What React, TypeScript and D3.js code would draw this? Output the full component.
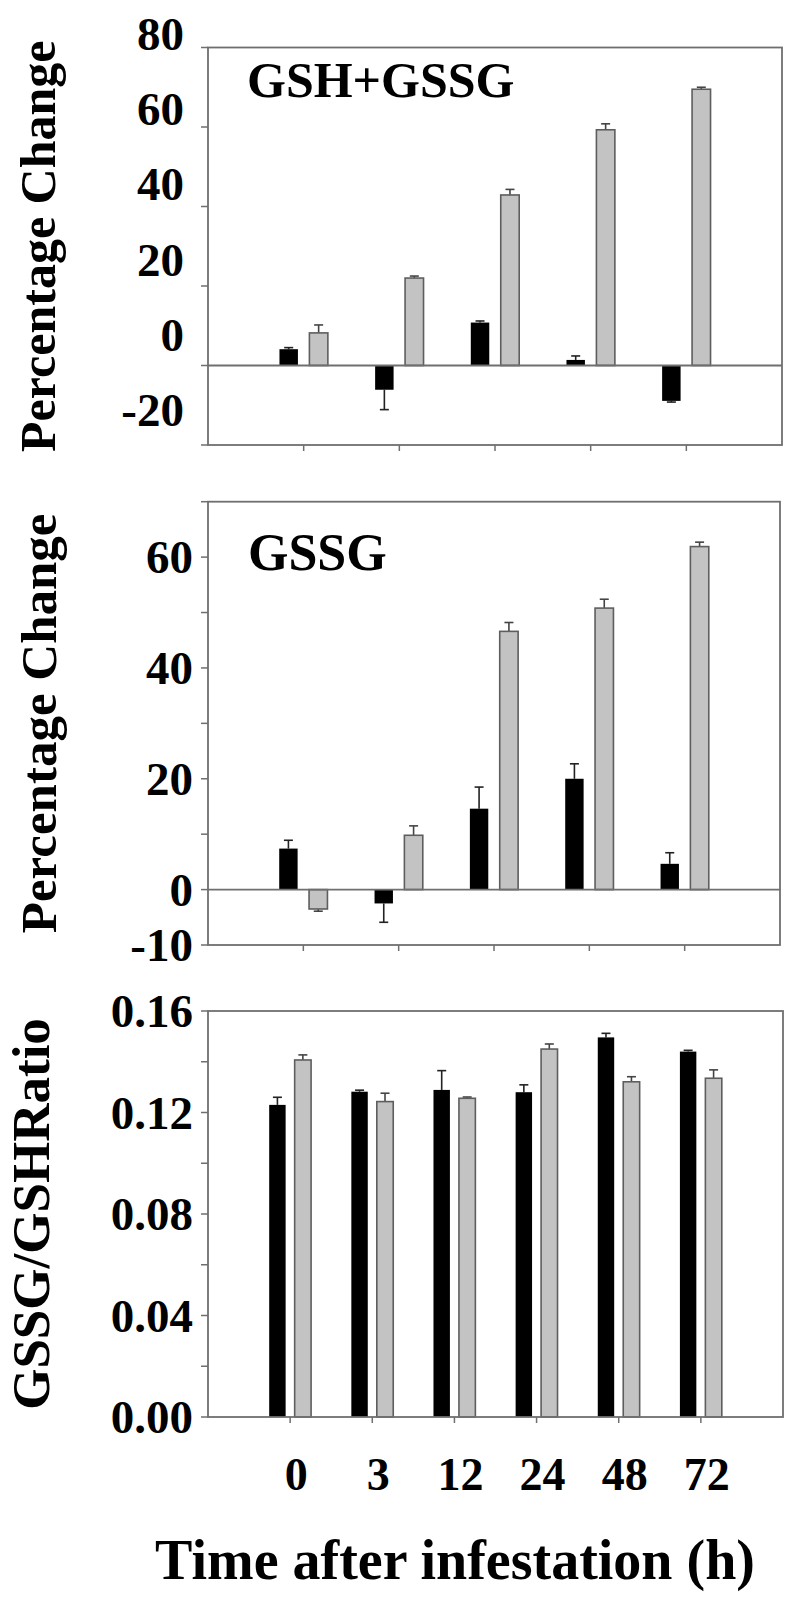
import React from 'react';
import * as d3 from 'd3';

// ---------- data ----------
const hoursTop = ['0', '3', '12', '24', '72'];
const hoursBottom = ['0', '3', '12', '24', '48', '72'];

// Panel A: GSH+GSSG (% change)
const totalBlack = [4.1, -6.1, 10.8, 1.4, -8.9];
const totalBlackErr = [0.4, 5.0, 0.4, 1.0, 0.3];
const totalGray = [8.2, 22.0, 42.9, 59.3, 69.5];
const totalGrayErr = [2.0, 0.5, 1.4, 1.5, 0.5];
const totalTicks = [80, 60, 40, 20, 0, -20];
const totalTickLabels = ['80', '60', '40', '20', '0', '-20'];

// Panel B: GSSG (% change)
const gssgBlack = [7.4, -2.5, 14.6, 20.0, 4.65];
const gssgBlackErr = [1.5, 3.4, 3.9, 2.7, 2.0];
const gssgGray = [-3.5, 9.8, 46.6, 50.8, 61.9];
const gssgGrayErr = [0.4, 1.7, 1.6, 1.6, 0.8];
const gssgTicks = [70, 60, 50, 40, 30, 20, 10, 0, -10];
const gssgTickLabels = ['60', '40', '20', '0', '-10'];
const gssgLabelValues = [60, 40, 20, 0, -10];

// Panel C: GSSG/GSH ratio
const ratioBlack = [0.123, 0.1282, 0.1289, 0.128, 0.1496, 0.144];
const ratioBlackErr = [0.003, 0.0006, 0.0076, 0.0029, 0.0016, 0.0005];
const ratioGray = [0.1407, 0.1243, 0.1256, 0.145, 0.1321, 0.1335];
const ratioGrayErr = [0.002, 0.0033, 0.0005, 0.002, 0.002, 0.0033];
const ratioTicks = [0.16, 0.14, 0.12, 0.1, 0.08, 0.06, 0.04, 0.02, 0];
const ratioLabelValues = [0.16, 0.12, 0.08, 0.04, 0];
const ratioTickLabels = ['0.16', '0.12', '0.08', '0.04', '0.00'];

const FONT = '"Liberation Serif", "Times New Roman", serif';
const AXIS = '#6f6f6f';
const GRAY = '#c3c3c3';
const GRAY_EDGE = '#5e5e5e';

type PanelProps = {
  left: number; right: number; top: number; bottom: number;
  domain: [number, number];
  slots: number;
  black: number[]; blackErr: number[];
  gray: number[]; grayErr: number[];
  ticks: number[];
  labelValues: number[]; labels: string[];
  labelRange?: [number, number];
  labelX: number;
  zeroLine: boolean;
  barFrac: number; gapFrac: number;
  title?: string; titleX?: number; titleY?: number; titleSize?: number;
  yTitle: string; yTitleX: number; yTitleSize: number;
  xLabels?: string[];
};

function ErrorBar({ x, y0, y1, color }: { x: number; y0: number; y1: number; color: string }) {
  return (
    <g stroke={color} strokeWidth={1.6}>
      <line x1={x} x2={x} y1={y0} y2={y1} />
      <line x1={x - 4.5} x2={x + 4.5} y1={y1} y2={y1} />
    </g>
  );
}

function Panel(p: PanelProps) {
  const x = d3.scaleLinear().domain([0, p.slots]).range([p.left, p.right]);
  const y = d3.scaleLinear().domain(p.domain).range([p.bottom, p.top]);
  const step = x(1) - x(0);
  const bw = step * p.barFrac;
  const gap = step * p.gapFrac;
  const labelScale = p.labelRange
    ? d3.scaleLinear().domain(p.domain).range(p.labelRange)
    : y;
  const groups = d3.range(p.black.length);

  const bar = (v: number, x0: number, fill: string, stroke: string | null, err: number, errColor: string, key: string) => {
    const yTop = y(Math.max(0, v));
    const yBot = y(Math.min(0, v));
    const cx = x0 + bw / 2;
    const sign = v >= 0 ? 1 : -1;
    const yv = y(v);
    const ye = y(v + sign * err);
    return (
      <g key={key}>
        <ErrorBar x={cx} y0={yv} y1={ye} color={errColor} />
        <rect x={x0} y={yTop} width={bw} height={Math.max(0.5, yBot - yTop)} fill={fill}
          stroke={stroke ?? 'none'} strokeWidth={stroke ? 1.6 : 0} />
      </g>
    );
  };

  const yMid = (p.top + p.bottom) / 2;
  return (
    <g>
      {/* bars */}
      {groups.map((i) => {
        const c = x(i + 1);
        return (
          <g key={i}>
            {bar(p.black[i], c - gap - bw, '#000', null, p.blackErr[i], '#222', 'b' + i)}
            {bar(p.gray[i], c + gap, GRAY, GRAY_EDGE, p.grayErr[i], '#444', 'g' + i)}
          </g>
        );
      })}
      {/* zero line */}
      {p.zeroLine && (
        <line x1={p.left} x2={p.right} y1={y(0)} y2={y(0)} stroke={AXIS} strokeWidth={1.8} />
      )}
      {/* frame */}
      <rect x={p.left} y={p.top} width={p.right - p.left} height={p.bottom - p.top}
        fill="none" stroke={AXIS} strokeWidth={1.8} />
      {/* y ticks */}
      {p.ticks.map((t) => (
        <line key={'yt' + t} x1={p.left - 7} x2={p.left} y1={y(t)} y2={y(t)} stroke={AXIS} strokeWidth={1.5} />
      ))}
      {/* x ticks */}
      {d3.range(1, p.slots).map((k) => (
        <line key={'xt' + k} x1={x(k)} x2={x(k)} y1={p.bottom} y2={p.bottom + 6} stroke={AXIS} strokeWidth={1.5} />
      ))}
      {/* y tick labels */}
      {p.labelValues.map((v, i) => (
        <text key={'yl' + i} x={p.labelX} y={labelScale(v)} textAnchor="end" dominantBaseline="central"
          fontFamily={FONT} fontWeight="bold" fontSize={47} fill="#000">{p.labels[i]}</text>
      ))}
      {/* x tick labels */}
      {p.xLabels && p.xLabels.map((l, i) => (
        <text key={'xl' + i} x={x(i + 1) + 6} y={p.bottom + 73} textAnchor="middle"
          fontFamily={FONT} fontWeight="bold" fontSize={46} fill="#000">{l}</text>
      ))}
      {/* panel title */}
      {p.title && (
        <text x={p.titleX} y={p.titleY} fontFamily={FONT} fontWeight="bold" fontSize={p.titleSize}
          fill="#000">{p.title}</text>
      )}
      {/* y axis title */}
      <text transform={`translate(${p.yTitleX},${yMid}) rotate(-90)`} textAnchor="middle"
        fontFamily={FONT} fontWeight="bold" fontSize={p.yTitleSize} fill="#000">{p.yTitle}</text>
    </g>
  );
}

export default function App() {
  return (
    <svg width={797} height={1602} viewBox="0 0 797 1602"
      style={{ position: 'absolute', left: 0, top: 0, background: '#fff' }}>
      <rect width={797} height={1602} fill="#fff" />
      <Panel left={208} right={782} top={47.5} bottom={445} domain={[-20, 80]} slots={6}
        black={totalBlack} blackErr={totalBlackErr} gray={totalGray} grayErr={totalGrayErr}
        ticks={totalTicks} labelValues={totalTicks} labels={totalTickLabels}
        labelRange={[410, 34]} labelX={184} zeroLine barFrac={0.193} gapFrac={0.06}
        title="GSH+GSSG" titleX={247} titleY={97} titleSize={50}
        yTitle="Percentage Change" yTitleX={55} yTitleSize={50} />
      <Panel left={208} right={780} top={501.7} bottom={945} domain={[-10, 70]} slots={6}
        black={gssgBlack} blackErr={gssgBlackErr} gray={gssgGray} grayErr={gssgGrayErr}
        ticks={gssgTicks} labelValues={gssgLabelValues} labels={gssgTickLabels}
        labelX={193} zeroLine barFrac={0.193} gapFrac={0.06}
        title="GSSG" titleX={248} titleY={570} titleSize={52}
        yTitle="Percentage Change" yTitleX={56} yTitleSize={51} />
      <Panel left={208} right={783} top={1011} bottom={1417} domain={[0, 0.16]} slots={7}
        black={ratioBlack} blackErr={ratioBlackErr} gray={ratioGray} grayErr={ratioGrayErr}
        ticks={ratioTicks} labelValues={ratioLabelValues} labels={ratioTickLabels}
        labelX={193} zeroLine={false} barFrac={0.2} gapFrac={0.055}
        yTitle="GSSG/GSHRatio" yTitleX={49} yTitleSize={53}
        xLabels={hoursBottom} />
      <text x={455} y={1579} textAnchor="middle" fontFamily={FONT} fontWeight="bold" fontSize={56}
        fill="#000">Time after infestation (h)</text>
    </svg>
  );
}
